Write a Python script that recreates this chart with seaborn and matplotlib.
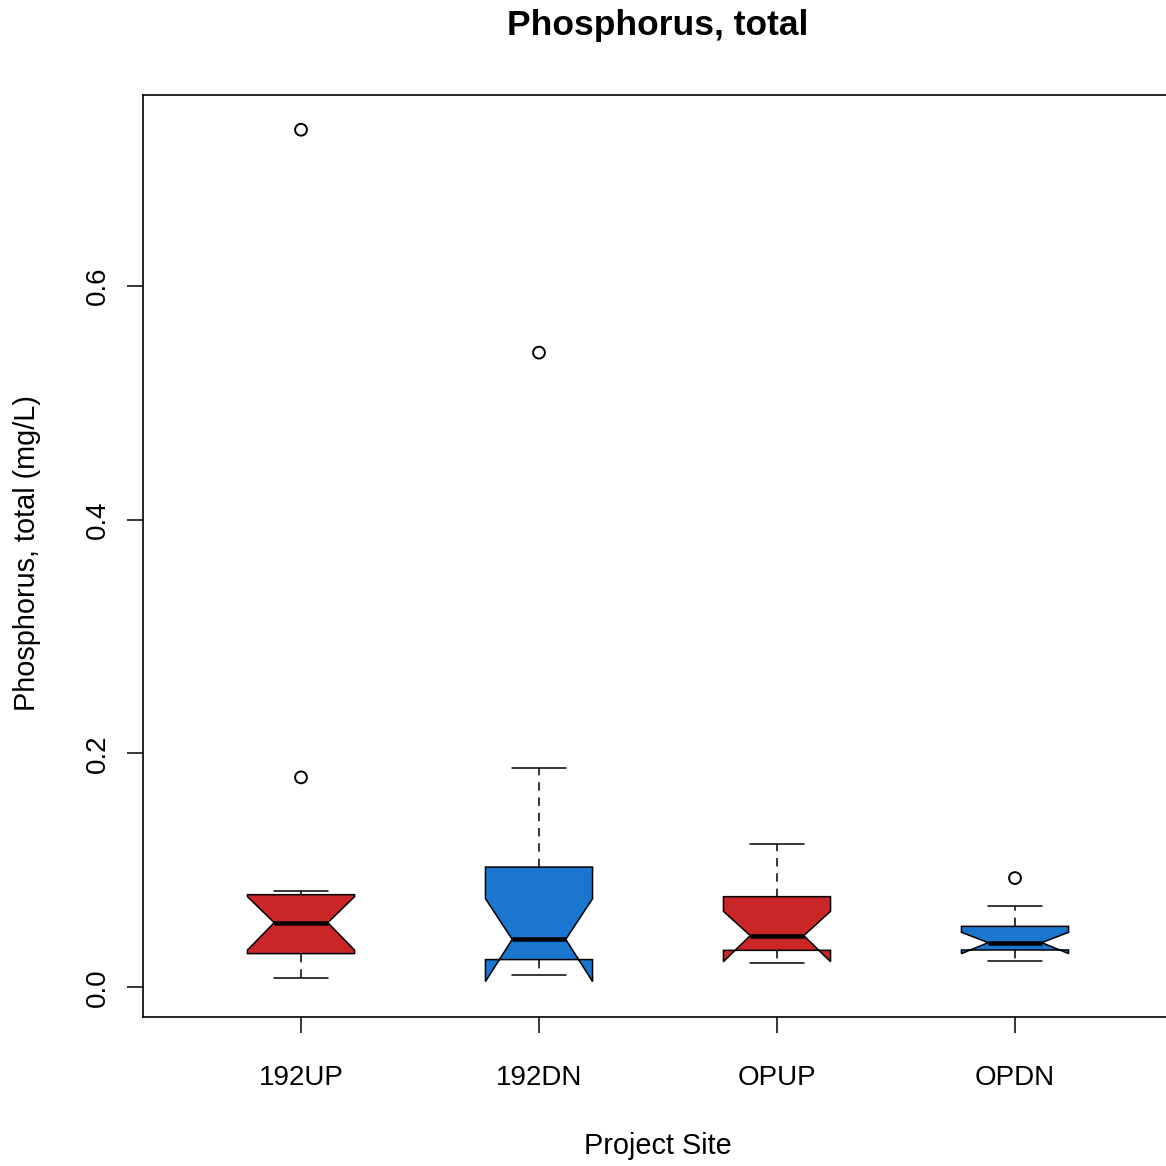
import matplotlib
matplotlib.use("Agg")
import matplotlib.pyplot as plt
import numpy as np
import pandas as pd
import seaborn as sns

# Summary statistics per project site (mg/L)
sites = ["192UP", "192DN", "OPUP", "OPDN"]
whisker_low = [0.0080, 0.0108, 0.0205, 0.0222]
quartile_1 = [0.0288, 0.0237, 0.0316, 0.0319]
median = [0.0553, 0.0410, 0.0442, 0.0382]
quartile_3 = [0.0792, 0.1028, 0.0775, 0.0521]
whisker_high = [0.0823, 0.1872, 0.1222, 0.0695]
notch_low = [0.0318, 0.0049, 0.0219, 0.0288]
notch_high = [0.0775, 0.0758, 0.0650, 0.0470]

# Outlying observations
outlier_site = ["192UP", "192UP", "192DN", "OPDN"]
outlier_value = [0.1795, 0.7333, 0.5427, 0.0934]

box_colors = ["#CB2627", "#1B76CF", "#CB2627", "#1B76CF"]

sns.set_theme(style="ticks")
plt.rcParams["font.family"] = ["Liberation Sans", "DejaVu Sans"]
plt.rcParams["text.color"] = "black"
plt.rcParams["axes.labelcolor"] = "black"
plt.rcParams["xtick.color"] = "black"
plt.rcParams["ytick.color"] = "black"

W, H = 1166, 1166
fig = plt.figure(figsize=(W / 100, H / 100), dpi=100)
left, right, top, bottom = 143, 1173, 95, 1017
ax = fig.add_axes([left / W, 1 - bottom / H, (right - left) / W, (bottom - top) / H])

positions = np.arange(len(sites))
stats = []
for i, s in enumerate(sites):
    stats.append(dict(label=s, whislo=whisker_low[i], q1=quartile_1[i], med=median[i],
                      q3=quartile_3[i], whishi=whisker_high[i],
                      cilo=notch_low[i], cihi=notch_high[i], fliers=[]))

lw = 1.1
parts = ax.bxp(stats, positions=positions, widths=0.45, capwidths=0.23,
               shownotches=True, patch_artist=True, showfliers=False,
               boxprops=dict(edgecolor="black", linewidth=lw),
               medianprops=dict(color="black", linewidth=3.3, solid_capstyle="butt"),
               whiskerprops=dict(color="black", linewidth=lw, linestyle=(0, (5.5, 4.5))),
               capprops=dict(color="black", linewidth=lw))
for patch, c in zip(parts["boxes"], box_colors):
    patch.set_facecolor(c)

out_df = pd.DataFrame({"pos": [sites.index(s) for s in outlier_site],
                       "value": outlier_value})
sns.scatterplot(data=out_df, x="pos", y="value", ax=ax, marker="o", s=72,
                facecolor="none", edgecolor="black", linewidth=1.4, zorder=3)

ax.set_xlim(-(301 - left) / 238, 3 + (right - 1015) / 238)
ax.set_ylim(-0.0254, 0.763)

ax.set_xticks(positions)
ax.set_xticklabels(sites, fontsize=20)
ax.set_yticks([0.0, 0.2, 0.4, 0.6])
ax.set_yticklabels(["0.0", "0.2", "0.4", "0.6"], fontsize=20, rotation=90,
                   va="center", ha="center")
ax.tick_params(axis="y", length=11.5, width=1.1, pad=21)
ax.tick_params(axis="x", length=11.5, width=1.1, pad=23)
for sp in ax.spines.values():
    sp.set_visible(True)
    sp.set_linewidth(1.2)
    sp.set_color("black")

ax.set_xlabel("Project Site", fontsize=20.8)
ax.set_ylabel("Phosphorus, total (mg/L)", fontsize=20.8)
ax.xaxis.set_label_coords((658 - left) / (right - left), (bottom - 1146) / (bottom - top))
ax.xaxis.label.set_va("center")
ax.yaxis.set_label_coords((27 - left) / (right - left), (bottom - 553) / (bottom - top))
ax.yaxis.label.set_va("center")

fig.text(658 / W, 1 - 25 / H, "Phosphorus, total", fontsize=25.5, fontweight="bold",
         ha="center", va="center", color="black")

fig.savefig("out.png", dpi=100, facecolor="white")
